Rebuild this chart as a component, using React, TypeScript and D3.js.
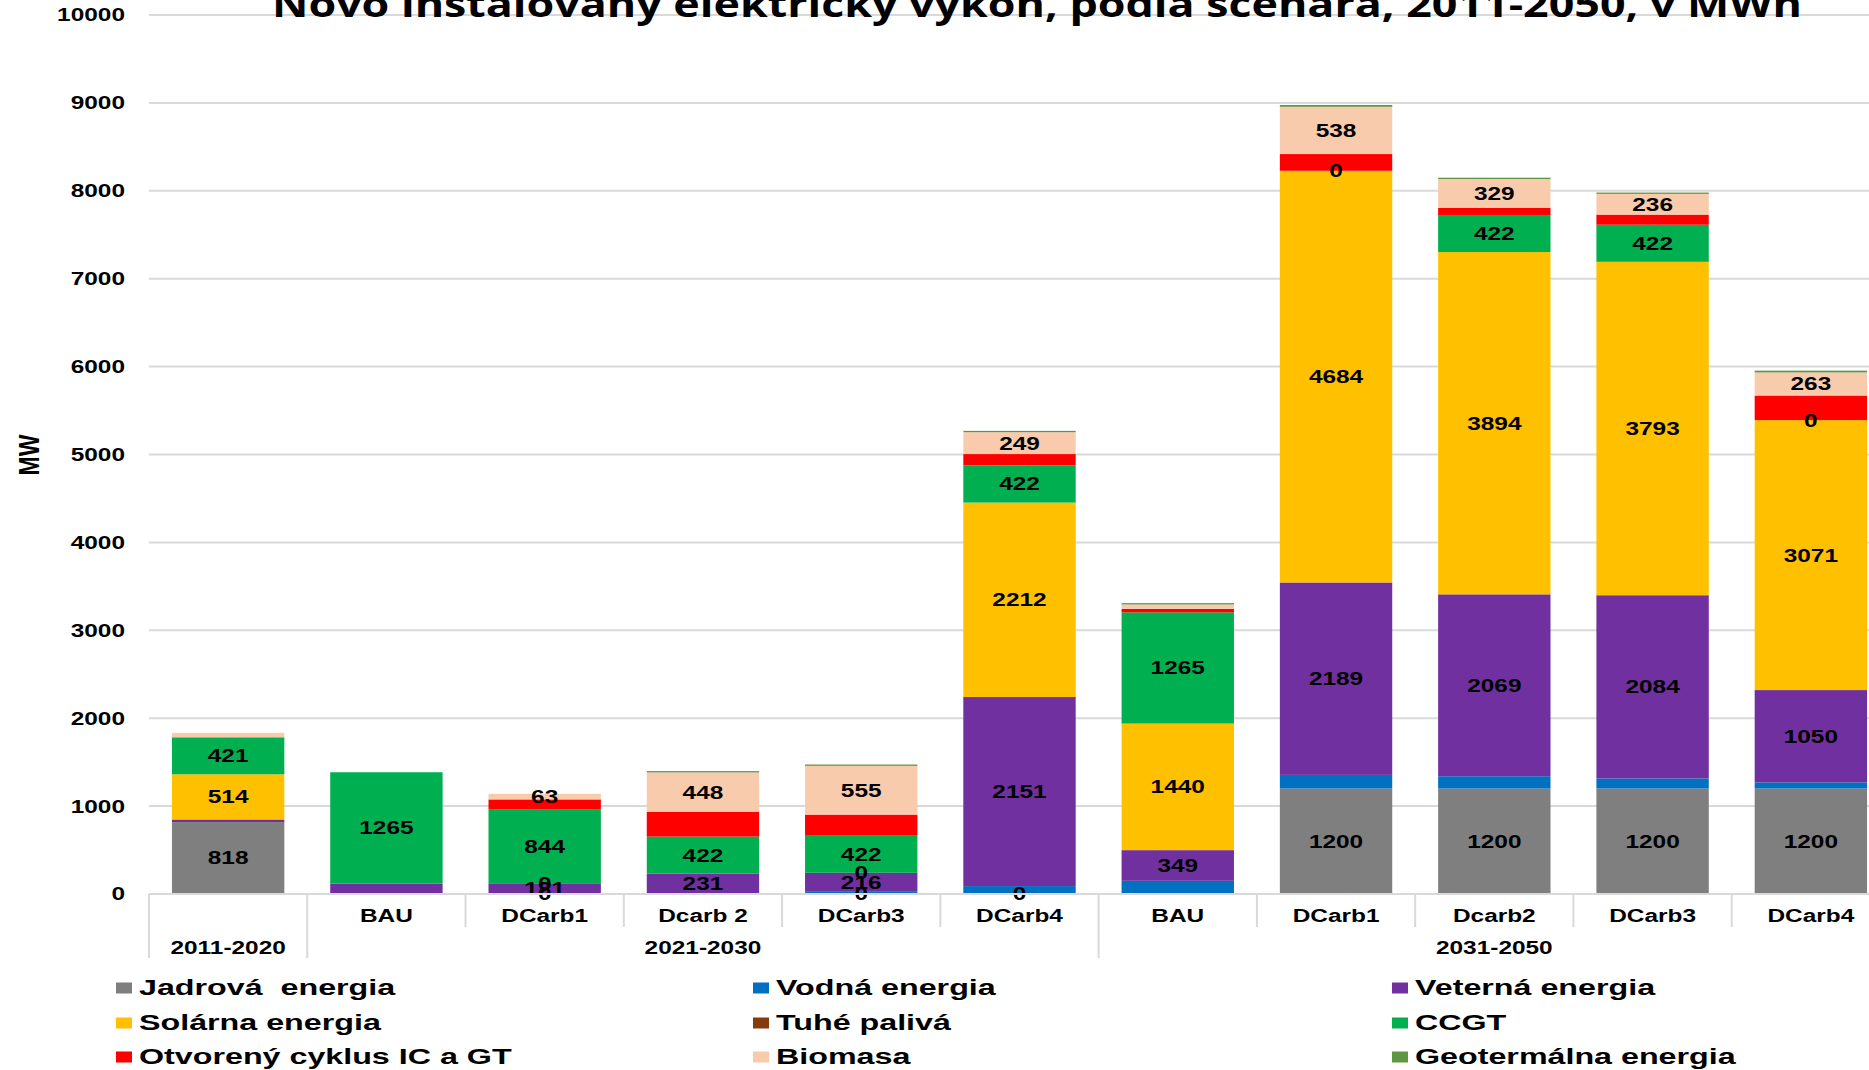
import * as d3 from "d3";

const W = 1869;
const H = 1070;
const PLOT = { left: 149, right: 1890, top: 15, bottom: 894 };

const CATEGORIES = ["", "BAU", "DCarb1", "Dcarb 2", "DCarb3", "DCarb4", "BAU", "DCarb1", "Dcarb2", "DCarb3", "DCarb4"];
const GROUP_LABELS = ["2011-2020", "2021-2030", "2031-2050"];
const GROUP_START = [0, 1, 6];
const GROUP_END = [1, 6, 11];
const Y_TICKS = [0, 1000, 2000, 3000, 4000, 5000, 6000, 7000, 8000, 9000, 10000];

const SERIES = [
  "Jadrová  energia",
  "Vodná energia",
  "Veterná energia",
  "Solárna energia",
  "Tuhé palivá",
  "CCGT",
  "Otvorený cyklus IC a GT",
  "Biomasa",
  "Geotermálna energia",
];
const COLORS = ["#7f7f7f", "#0070c0", "#7030a0", "#ffc000", "#843c0c", "#00b050", "#ff0000", "#f8cbad", "#5e9641"];

// segment heights as drawn (MW)
const jadrova = [818, 0, 0, 0, 0, 0, 0, 1200, 1200, 1200, 1200];
const vodna = [0, 0, 0, 0, 25, 90, 150, 155, 140, 115, 70];
const veterna = [30, 120, 122, 231, 216, 2151, 349, 2189, 2069, 2084, 1050];
const solarna = [514, 0, 0, 0, 0, 2212, 1440, 4684, 3894, 3793, 3071];
const tuhe = [0, 0, 0, 0, 0, 0, 0, 0, 0, 0, 0];
const ccgt = [421, 1265, 844, 422, 422, 422, 1265, 0, 422, 422, 0];
const otvoreny = [0, 0, 110, 282, 240, 130, 40, 190, 80, 115, 280];
const biomasa = [50, 0, 63, 448, 555, 249, 50, 538, 329, 236, 263];
const geoterm = [0, 0, 0, 15, 15, 15, 15, 20, 15, 15, 20];

// data labels shown in the chart
type L = string | null;
const jadrovaLbl: L[] = ["818", null, "0", null, "0", "0", null, "1200", "1200", "1200", "1200"];
const veternaLbl: L[] = [null, null, "121", "231", "216", "2151", "349", "2189", "2069", "2084", "1050"];
const solarnaLbl: L[] = ["514", null, "0", null, "0", "2212", "1440", "4684", "3894", "3793", "3071"];
const ccgtLbl: L[] = ["421", "1265", "844", "422", "422", "422", "1265", "0", "422", "422", "0"];
const biomasaLbl: L[] = [null, null, "63", "448", "555", "249", null, "538", "329", "236", "263"];

const VALUES = [jadrova, vodna, veterna, solarna, tuhe, ccgt, otvoreny, biomasa, geoterm];
const LABELS: (L[] | null)[] = [jadrovaLbl, null, veternaLbl, solarnaLbl, null, ccgtLbl, null, biomasaLbl, null];

const FONT = "'Liberation Sans', Arial, sans-serif";
const SX = 1.32; // the original picture is stretched horizontally

function Txt({ x, y, size, anchor = "middle", sx = SX, children }: any) {
  return (
    <text
      transform={`translate(${x},${y}) scale(${sx},1)`}
      textAnchor={anchor}
      dominantBaseline="central"
      fontFamily={FONT}
      fontWeight="bold"
      fontSize={size}
      fill="#000"
      style={{ whiteSpace: "pre" }}
    >
      {children}
    </text>
  );
}

export default function App() {
  const idx = d3.range(CATEGORIES.length);
  const rows = idx.map((i) => {
    const r: Record<string, number> = { i };
    SERIES.forEach((s, k) => (r[s] = VALUES[k][i]));
    return r;
  });
  const stacked = d3.stack<Record<string, number>>().keys(SERIES)(rows);

  const x = d3.scaleBand<number>().domain(idx).range([PLOT.left, PLOT.right]).paddingInner(0.29).paddingOuter(0.145);
  const xo = d3.scaleBand<number>().domain(idx).range([PLOT.left, PLOT.right]);
  const y = d3.scaleLinear().domain([0, 10000]).range([PLOT.bottom, PLOT.top]);

  const boundaries = d3.range(CATEGORIES.length + 1);
  const bx = (i: number) => (i < CATEGORIES.length ? xo(i)! : PLOT.right);
  const groupEdges = new Set([...GROUP_START, ...GROUP_END]);

  const legendX = [116, 753, 1392];
  const legendY = [988, 1023, 1057];

  return (
    <svg width={W} height={H} style={{ position: "absolute", left: 0, top: 0, background: "#fff" }}>
      {/* grid */}
      {Y_TICKS.map((t) => (
        <g key={t}>
          <line x1={PLOT.left} x2={PLOT.right} y1={y(t)} y2={y(t)} stroke="#d9d9d9" strokeWidth={2} />
          <Txt x={125} y={y(t)} size={18.5} anchor="end">
            {t}
          </Txt>
        </g>
      ))}

      {/* title */}
      <text
        x={272}
        y={17}
        textLength={1530}
        lengthAdjust="spacingAndGlyphs"
        fontFamily="'Open Sans', 'Noto Sans', sans-serif"
        fontWeight="bold"
        fontSize={36}
        fill="#000"
      >
        Novo inštalovaný elektrický výkon, podľa scenára, 2011-2050, v MWh
      </text>

      {/* bars */}
      {stacked.map((layer, k) => (
        <g key={SERIES[k]} fill={COLORS[k]}>
          {layer.map((d, i) =>
            d[1] - d[0] > 0 ? (
              <rect key={i} x={x(i)} width={x.bandwidth()} y={y(d[1])} height={y(d[0]) - y(d[1])} />
            ) : null,
          )}
        </g>
      ))}

      {/* data labels */}
      {stacked.map((layer, k) =>
        LABELS[k]
          ? layer.map((d, i) => {
              const lbl = LABELS[k]![i];
              if (lbl == null) return null;
              return (
                <Txt key={`${k}-${i}`} x={x(i)! + x.bandwidth() / 2} y={y((d[0] + d[1]) / 2)} size={18.5}>
                  {lbl}
                </Txt>
              );
            })
          : null,
      )}

      {/* category axis */}
      <line x1={PLOT.left} x2={PLOT.right} y1={PLOT.bottom} y2={PLOT.bottom} stroke="#d9d9d9" strokeWidth={2} />
      {boundaries.map((i) => (
        <line
          key={i}
          x1={bx(i)}
          x2={bx(i)}
          y1={PLOT.bottom}
          y2={groupEdges.has(i) ? 958 : 927}
          stroke="#d9d9d9"
          strokeWidth={2}
        />
      ))}
      {CATEGORIES.map((c, i) => (
        <Txt key={i} x={xo(i)! + xo.bandwidth() / 2} y={916} size={18.5}>
          {c}
        </Txt>
      ))}
      {GROUP_LABELS.map((g, j) => (
        <Txt key={g} x={(bx(GROUP_START[j]) + bx(GROUP_END[j])) / 2} y={948} size={18.5}>
          {g}
        </Txt>
      ))}

      {/* y axis title */}
      <text
        transform={`translate(29,455) scale(1.3,1) rotate(-90)`}
        textAnchor="middle"
        dominantBaseline="central"
        fontFamily={FONT}
        fontWeight="bold"
        fontSize={23}
      >
        MW
      </text>

      {/* legend */}
      {SERIES.map((s, k) => {
        const lx = legendX[k % 3];
        const ly = legendY[Math.floor(k / 3)];
        return (
          <g key={s}>
            <rect x={lx} y={ly - 5.5} width={16} height={11} fill={COLORS[k]} />
            <Txt x={lx + 23} y={ly} size={21.5} anchor="start" sx={1.5}>
              {s}
            </Txt>
          </g>
        );
      })}
    </svg>
  );
}
